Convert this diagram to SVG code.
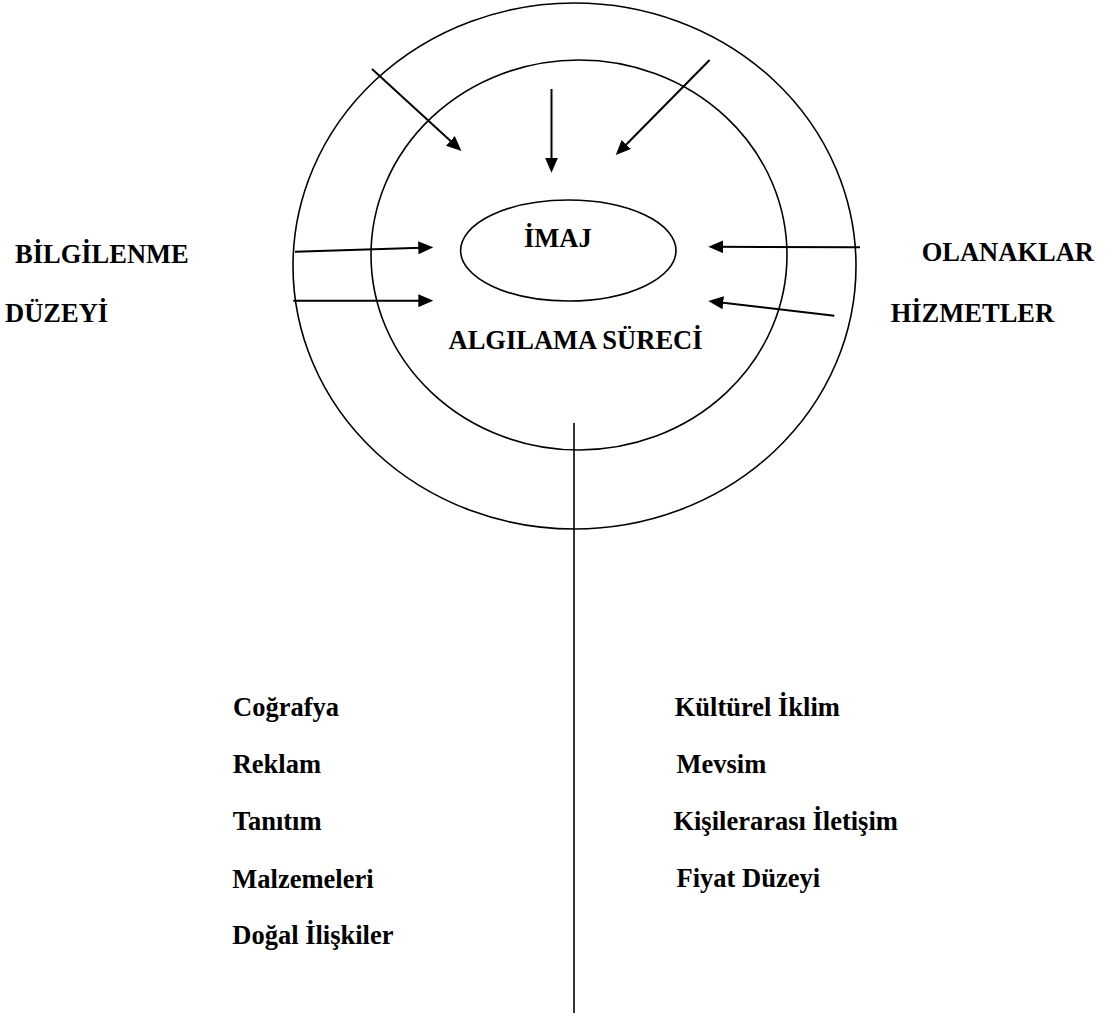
<svg xmlns="http://www.w3.org/2000/svg" width="1111" height="1019" viewBox="0 0 1111 1019">
<style>
text{font-family:"Liberation Serif","Times New Roman",serif;font-weight:bold;font-size:26.5px;fill:#000}
.ring{fill:none;stroke:#000;stroke-width:1.6}
.arr{fill:none;stroke:#000;stroke-width:2;marker-end:url(#ah)}
.ln{fill:none;stroke:#000;stroke-width:1.6}
</style>
<defs>
<marker id="ah" markerUnits="userSpaceOnUse" markerWidth="15" markerHeight="13" refX="11" refY="6.5" orient="auto">
<path d="M0,0 L15,6.5 L0,13 z" fill="#000"/>
</marker>
</defs>
<rect width="1111" height="1019" fill="#fff"/>
<g id="outer-circle"><ellipse class="ring" cx="574.5" cy="266" rx="281.5" ry="263"/></g>
<g id="algilama-sureci"><ellipse class="ring" cx="579" cy="255" rx="208" ry="195"/>
<text x="448.5" y="348.5">ALGILAMA SÜRECİ</text></g>
<g id="imaj"><ellipse class="ring" cx="568.3" cy="250.5" rx="107.7" ry="50.5"/>
<text x="524" y="246.7">İMAJ</text></g>
<g id="bilgilenme-duzeyi"><text x="15" y="263">BİLGİLENME</text><text x="5" y="321.7">DÜZEYİ</text></g>
<g id="olanaklar"><text x="921.7" y="261">OLANAKLAR</text></g>
<g id="hizmetler"><text x="890.7" y="321.7">HİZMETLER</text></g>
<g id="left-factors">
<text x="233" y="716">Coğrafya</text>
<text x="232.7" y="773">Reklam</text>
<text x="232.7" y="830">Tanıtım</text>
<text x="232.3" y="887.5">Malzemeleri</text>
<text x="232.3" y="944">Doğal İlişkiler</text>
</g>
<g id="right-factors">
<text x="674.7" y="716">Kültürel İklim</text>
<text x="676.5" y="773">Mevsim</text>
<text x="673.4" y="830">Kişilerarası İletişim</text>
<text x="676.5" y="887">Fiyat Düzeyi</text>
</g>
<g id="connectors">
<line class="arr" x1="372" y1="69" x2="458.5" y2="148.3"/>
<line class="arr" x1="551.5" y1="89" x2="551.5" y2="168.7"/>
<line class="arr" x1="709.6" y1="60" x2="618.6" y2="152.2"/>
<line class="arr" x1="295" y1="251.7" x2="429.3" y2="247.4"/>
<line class="arr" x1="293.3" y1="300.7" x2="429.3" y2="300.7"/>
<line class="arr" x1="860" y1="247.3" x2="712.3" y2="246.7"/>
<line class="arr" x1="834.3" y1="315.7" x2="712.3" y2="301.5"/>
<line class="ln" x1="574" y1="423" x2="574" y2="1013"/>
</g>
</svg>
